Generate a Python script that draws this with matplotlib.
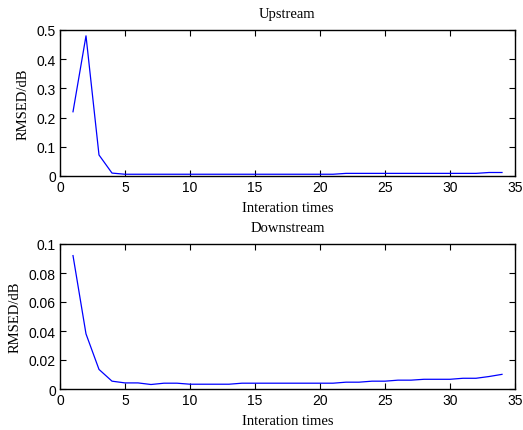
import matplotlib
matplotlib.use("Agg")
import matplotlib.pyplot as plt
from matplotlib.ticker import FuncFormatter

iterations = list(range(1, 35))

upstream = [0.22, 0.48, 0.072, 0.010,
            0.006, 0.006, 0.006, 0.006, 0.006, 0.006, 0.006, 0.006, 0.006,
            0.006, 0.006, 0.006, 0.006, 0.006, 0.006, 0.006, 0.006,
            0.009, 0.009, 0.009, 0.009, 0.009, 0.009, 0.009, 0.009, 0.009,
            0.009, 0.009, 0.012, 0.012]

downstream = [0.092, 0.038, 0.0135, 0.0054,
              0.0042, 0.0042, 0.0031, 0.0040, 0.0040, 0.0033, 0.0033, 0.0033,
              0.0033, 0.0040, 0.0040, 0.0040, 0.0040, 0.0040, 0.0040, 0.0040,
              0.0040, 0.0047, 0.0047, 0.0054, 0.0054, 0.0061, 0.0061, 0.0067,
              0.0067, 0.0067, 0.0074, 0.0074, 0.0086, 0.0101]

up_yticks = [0, 0.1, 0.2, 0.3, 0.4, 0.5]
down_yticks = [0, 0.02, 0.04, 0.06, 0.08, 0.1]
xticks = [0, 5, 10, 15, 20, 25, 30, 35]

serif = "Liberation Serif"
sans = "Liberation Sans"

fig = plt.figure(figsize=(5.23, 4.31), dpi=100)
W, H = 523, 431

# axes boxes in pixels (left, top, right, bottom)
boxes = [(60, 31, 515, 177), (60, 245, 515, 390)]
panels = [("Upstream", upstream, up_yticks, 0.5),
          ("Downstream", downstream, down_yticks, 0.1)]

for (l, t, r, b), (title, vals, yt, ymax) in zip(boxes, panels):
    ax = fig.add_axes([l / W, 1 - b / H, (r - l) / W, (b - t) / H])
    ax.plot(iterations, vals, color="blue", linewidth=0.9)
    ax.set_xlim(0, 35)
    ax.set_ylim(0, ymax)
    ax.set_xticks(xticks)
    ax.set_yticks(yt)
    ax.yaxis.set_major_formatter(FuncFormatter(lambda v, p: "%g" % v))
    ax.tick_params(direction="in", top=True, right=True, length=4,
                   width=0.8, labelsize=10, pad=3)
    for lab in ax.get_xticklabels() + ax.get_yticklabels():
        lab.set_fontfamily(sans)
    for s in ax.spines.values():
        s.set_linewidth(1.0)
    ax.set_title(title, fontfamily=serif, fontsize=10.5, pad=9)
    ax.set_xlabel("Interation times", fontfamily=serif, fontsize=10.5, labelpad=5)
    ax.set_ylabel("RMSED/dB", fontfamily=serif, fontsize=10.5, labelpad=5)

fig.savefig("out.png", dpi=100, facecolor="white")
